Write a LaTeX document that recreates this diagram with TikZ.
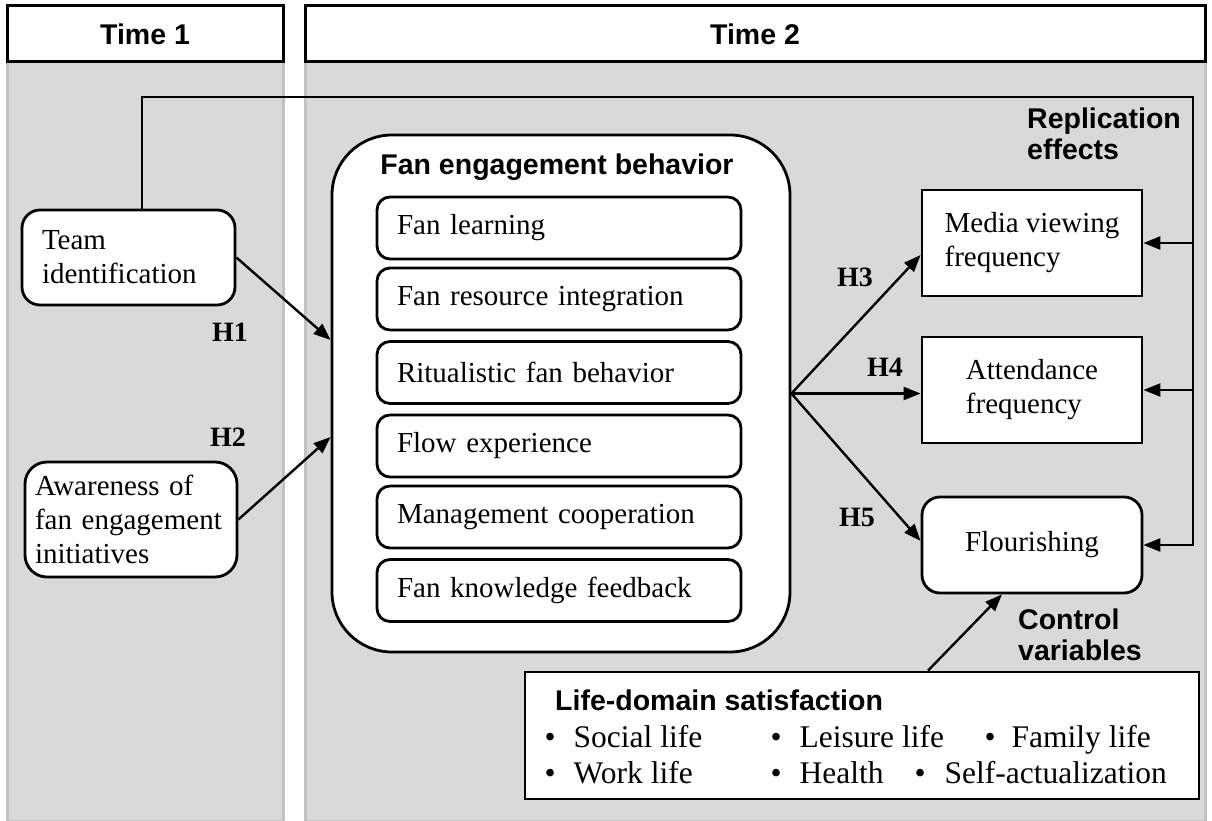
\documentclass[tikz,border=0pt]{standalone}
\usepackage{fontspec}
\setmainfont{Liberation Serif}
\setsansfont{Liberation Sans}
\usetikzlibrary{arrows.meta}

\definecolor{colfill}{HTML}{D9D9D9}
\definecolor{coledge}{HTML}{C2C2C2}

\newcommand{\bodyfont}{\fontsize{29}{34}\selectfont}
\newcommand{\headfont}{\sffamily\bfseries\fontsize{28.5}{31.5}\selectfont}
\newcommand{\hypfont}{\bfseries\fontsize{28}{30}\selectfont}
\newcommand{\domfont}{\fontsize{31.5}{36}\selectfont}

\begin{document}
\begin{tikzpicture}[x=1pt,y=-1pt,
  hdr/.style={draw, line width=3pt, fill=white, font=\headfont, minimum height=56pt},
  box/.style={draw, line width=2.8pt, fill=white, font=\bodyfont, align=left},
  rbox/.style={box, rounded corners=18pt},
  facet/.style={box, rounded corners=13pt, minimum width=364pt, minimum height=62pt, text width=324pt, inner xsep=20pt},
  hyp/.style={font=\hypfont},
  tag/.style={font=\headfont, align=left, inner sep=0pt},
  domitem/.style={font=\domfont, anchor=base west, inner sep=0pt},
  arr/.style={-{Triangle[length=17pt,width=13pt]}, line width=2.4pt}
]
\useasboundingbox (0,0) rectangle (1212,821);

% Time columns
\fill[colfill, draw=coledge, line width=3pt] (7,62) rectangle (283,821);
\fill[colfill, draw=coledge, line width=3pt] (305,62) rectangle (1205,821);
\node[hdr, minimum width=276pt] (time1) at (145,34) {Time 1};
\node[hdr, minimum width=900pt] (time2) at (755,34) {Time 2};

% Time 1 constructs
\node[rbox, minimum width=213pt, minimum height=95pt, text width=173pt, inner xsep=20pt] (team) at (128.5,257.5) {Team\\identification};
\node[rbox, rounded corners=22pt, minimum width=212pt, minimum height=115pt, text width=192pt, inner xsep=10pt] (aware) at (131,519.5) {Awareness of\\fan engagement\\initiatives};

% Fan engagement behavior
\node[box, rounded corners=60pt, minimum width=458pt, minimum height=517pt] (fan) at (561,393.5) {};
\node[font=\headfont] (fantitle) at (557,167) {Fan engagement behavior};
\node[facet] (learn) at (559,228) {Fan learning};
\node[facet] (resint) at (559,299) {Fan resource integration};
\node[facet] (ritual) at (559,372.5) {Ritualistic fan behavior};
\node[facet] (flow) at (559,446) {Flow experience};
\node[facet] (mgmt) at (559,517) {Management cooperation};
\node[facet] (feedb) at (559,590.5) {Fan knowledge feedback};
\coordinate (hub) at (fan.east);

% Outcomes
\node[box, minimum width=220pt, minimum height=106pt] (media) at (1032,243) {Media viewing\\frequency};
\node[box, minimum width=220pt, minimum height=106pt] (attend) at (1032,390) {Attendance\\frequency};
\node[rbox, minimum width=220pt, minimum height=96pt] (flour) at (1032,545) {Flourishing};

% Control variables
\node[box, minimum width=674pt, minimum height=127pt] (life) at (862,735.5) {};
\node[tag, anchor=west] (lifetitle) at (555,700) {Life-domain satisfaction};
\node[domitem] (social) at (544.5,747.5) {\textbullet\hspace{18pt}Social life};
\node[domitem] (leisure) at (770.5,747.5) {\textbullet\hspace{18pt}Leisure life};
\node[domitem] (family) at (984.5,747.5) {\textbullet\hspace{16pt}Family life};
\node[domitem] (work) at (544.5,783.5) {\textbullet\hspace{18pt}Work life};
\node[domitem] (health) at (770.5,783.5) {\textbullet\hspace{18pt}Health};
\node[domitem] (selfact) at (914.5,783.5) {\textbullet\hspace{19pt}Self-actualization};

% Labels
\node[tag, anchor=west] (repl) at (1027,134) {Replication\\effects};
\node[tag, anchor=west] (ctrl) at (1018,635) {Control\\variables};
\node[hyp] (h1) at (230,332) {H1};
\node[hyp] (h2) at (228,437) {H2};
\node[hyp] (h3) at (855,277) {H3};
\node[hyp] (h4) at (885,367) {H4};
\node[hyp] (h5) at (857,517) {H5};

% Hypothesised paths
\draw[arr] (team.east) -- ([yshift=53.5pt]fan.west);
\draw[arr] (aware.east) -- ([yshift=-43.5pt]fan.west);
\draw[arr] (hub) -- ([yshift=-12pt]media.west);
\draw[arr] (hub) -- (hub -| attend.west);
\draw[arr] (hub) -- ([yshift=4pt]flour.west);

% Replication paths
\coordinate (rtop) at (1193,97);
\draw[arr, line width=2.6pt] ([xshift=13.5pt]team.north) |- (rtop) |- (flour.east);
\draw[arr] (rtop |- media.east) -- (media.east);
\draw[arr] (rtop |- attend.east) -- (attend.east);
\draw[arr] ([xshift=66pt]life.north) -- ([xshift=-30pt]flour.south);

\end{tikzpicture}
\end{document}
